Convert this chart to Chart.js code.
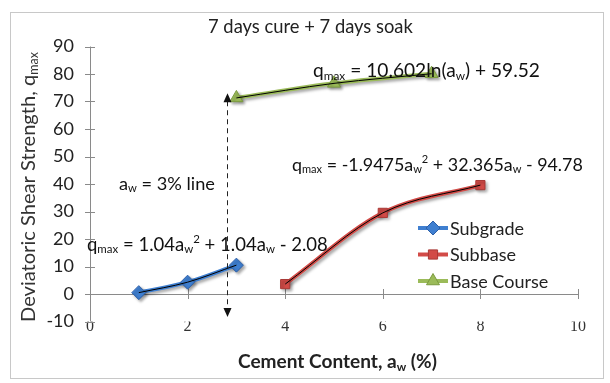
<!DOCTYPE html>
<html>
<head>
<meta charset="utf-8">
<script src="https://cdn.jsdelivr.net/npm/chart.js@4/dist/chart.umd.min.js"></script>
<style>
  body { margin: 0; background: #fff; }
  #wrap { position: relative; width: 610px; height: 383px; }
  #frame { position: absolute; left: 10px; top: 12px; width: 594px; height: 367px; border: 1px solid #c8c8c8; box-sizing: border-box; }
  canvas { position: absolute; left: 0; top: 0; }
</style>
</head>
<body>
<div id="wrap">
  <div id="frame"></div>
  <canvas id="chart" width="610" height="383"></canvas>
</div>
<script>
// cement content (%) and q_max for each layer
const subgradeX = [1, 2, 3];
const subgradeY = [0.5, 4.3, 10.5];
const subbaseX = [4, 6, 8];
const subbaseY = [3.6, 29.5, 39.6];
const baseX = [3, 5, 7];
const baseY = [71.3, 76.6, 80.1];

const xTicks = [0, 2, 4, 6, 8, 10];
const yTicks = [-10, 0, 10, 20, 30, 40, 50, 60, 70, 80, 90];

// a_w = 3% marker line (drawn slightly left of 3, as in the sheet)
const markerX = 2.8;
const markerFrom = -8.4;
const markerTo = 73;

const FONT = 'Lato, "Open Sans", sans-serif';

function pts(xs, ys) {
    return xs.map((x, i) => ({ x: x, y: ys[i] }));
}

function seriesSet(label, xs, ys, color, edge, style, radius) {
    return {
        label: label,
        data: pts(xs, ys),
        borderColor: color,
        backgroundColor: color,
        borderWidth: 4,
        pointStyle: style,
        pointRadius: radius,
        pointBackgroundColor: color,
        pointBorderColor: edge,
        pointBorderWidth: 1,
        cubicInterpolationMode: 'monotone',
        order: 2,
        shadow: true
    };
}

function trendSet(xs, ys) {
    return {
        label: 'trend',
        data: pts(xs, ys),
        borderColor: '#000',
        borderWidth: 1,
        pointRadius: 0,
        cubicInterpolationMode: 'monotone',
        order: 1
    };
}

function richWidth(ctx, parts, size, weight) {
    let w = 0;
    parts.forEach(p => {
        const s = p[1] ? size * 0.62 : size;
        ctx.font = weight + ' ' + s + 'px ' + FONT;
        w += ctx.measureText(p[0]).width;
    });
    return w;
}

// text with sub/superscript pieces, sized to span the given width
function richText(ctx, parts, x, y, width, weight) {
    weight = weight || 'normal';
    const size = 16 * width / richWidth(ctx, parts, 16, weight);
    let cx = x;
    ctx.textBaseline = 'middle';
    ctx.textAlign = 'left';
    parts.forEach(p => {
        let s = size, dy = 0;
        if (p[1] === 'sub') { s = size * 0.62; dy = size * 0.25; }
        if (p[1] === 'sup') { s = size * 0.62; dy = -size * 0.3; }
        ctx.font = weight + ' ' + s + 'px ' + FONT;
        ctx.fillText(p[0], cx, y + dy);
        cx += ctx.measureText(p[0]).width;
    });
}

function arrowHead(ctx, x, y, dir) {
    ctx.beginPath();
    ctx.moveTo(x, y);
    ctx.lineTo(x - 4, y - 9 * dir);
    ctx.lineTo(x + 4, y - 9 * dir);
    ctx.closePath();
    ctx.fill();
}

const shadowPlugin = {
    id: 'shadow',
    beforeDatasetDraw(chart, args) {
        if (chart.data.datasets[args.index].shadow) {
            const ctx = chart.ctx;
            ctx.shadowColor = 'rgba(0,0,0,0.35)';
            ctx.shadowBlur = 3;
            ctx.shadowOffsetX = 2;
            ctx.shadowOffsetY = 2;
        }
    },
    afterDatasetDraw(chart) {
        const ctx = chart.ctx;
        ctx.shadowColor = 'rgba(0,0,0,0)';
        ctx.shadowBlur = 0;
        ctx.shadowOffsetX = 0;
        ctx.shadowOffsetY = 0;
    }
};

const axesPlugin = {
    id: 'axes',
    beforeDatasetsDraw(chart) {
        const ctx = chart.ctx;
        const xs = chart.scales.x, ys = chart.scales.y;
        const x0 = xs.getPixelForValue(0);
        const y0 = ys.getPixelForValue(0);
        ctx.save();
        ctx.strokeStyle = '#8a8a8a';
        ctx.lineWidth = 1;
        ctx.beginPath();
        // vertical axis with crossing ticks
        ctx.moveTo(x0 + 0.5, ys.getPixelForValue(yTicks[0]));
        ctx.lineTo(x0 + 0.5, ys.getPixelForValue(yTicks[yTicks.length - 1]));
        yTicks.forEach(v => {
            const py = Math.round(ys.getPixelForValue(v)) + 0.5;
            ctx.moveTo(x0 - 5, py);
            ctx.lineTo(x0 + 5, py);
        });
        // horizontal axis sits at zero
        ctx.moveTo(x0, Math.round(y0) + 0.5);
        ctx.lineTo(xs.getPixelForValue(xTicks[xTicks.length - 1]), Math.round(y0) + 0.5);
        xTicks.forEach(v => {
            if (v === 0) return;
            const px = Math.round(xs.getPixelForValue(v)) + 0.5;
            ctx.moveTo(px, y0 - 5);
            ctx.lineTo(px, y0 + 5);
        });
        ctx.stroke();
        ctx.restore();
    },
    afterDraw(chart) {
        const ctx = chart.ctx;
        const xs = chart.scales.x, ys = chart.scales.y;
        ctx.save();

        // title
        ctx.fillStyle = '#222';
        richText(ctx, [['7 days cure + 7 days soak', '']], 208, 27, 205);

        // x axis title
        ctx.fillStyle = '#222';
        richText(ctx, [['Cement Content, a', ''], ['w', 'sub'], [' (%)', '']], 238, 362, 199, 'bold');

        // y axis title
        ctx.fillStyle = '#333';
        ctx.save();
        ctx.translate(29, 187);
        ctx.rotate(-Math.PI / 2);
        richText(ctx, [['Deviatoric Shear Strength, q', ''], ['max', 'sub']], -135, 0, 270);
        ctx.restore();

        // trend equations
        ctx.fillStyle = '#111';
        richText(ctx, [['q', ''], ['max', 'sub'], [' = 10.602ln(a', ''], ['w', 'sub'], [') + 59.52', '']], 313, 71, 227);
        richText(ctx, [['q', ''], ['max', 'sub'], [' = -1.9475a', ''], ['w', 'sub'], ['2', 'sup'],
            [' + 32.365a', ''], ['w', 'sub'], [' - 94.78', '']], 292, 165, 291);
        richText(ctx, [['q', ''], ['max', 'sub'], [' = 1.04a', ''], ['w', 'sub'], ['2', 'sup'],
            [' + 1.04a', ''], ['w', 'sub'], [' - 2.08', '']], 87, 245, 241);
        richText(ctx, [['a', ''], ['w', 'sub'], [' = 3% line', '']], 119, 184, 96);

        // dashed 3% line with arrows at both ends
        const mx = Math.round(xs.getPixelForValue(markerX)) + 0.5;
        const top = ys.getPixelForValue(markerTo);
        const bot = ys.getPixelForValue(markerFrom);
        ctx.strokeStyle = '#222';
        ctx.lineWidth = 1;
        ctx.setLineDash([5, 4]);
        ctx.beginPath();
        ctx.moveTo(mx, top + 8);
        ctx.lineTo(mx, bot - 8);
        ctx.stroke();
        ctx.setLineDash([]);
        ctx.fillStyle = '#111';
        arrowHead(ctx, mx, top, -1);
        arrowHead(ctx, mx, bot, 1);

        // legend
        [0, 1, 2].forEach((di, i) => {
            const ds = chart.data.datasets[di];
            const ly = 228 + i * 26.5;
            ctx.strokeStyle = ds.borderColor;
            ctx.lineWidth = 4;
            ctx.beginPath();
            ctx.moveTo(418, ly);
            ctx.lineTo(448, ly);
            ctx.stroke();
            ctx.fillStyle = ds.pointBackgroundColor;
            ctx.strokeStyle = ds.pointBorderColor;
            ctx.lineWidth = 1;
            Chart.helpers.drawPoint(ctx, { pointStyle: ds.pointStyle, radius: ds.pointRadius, borderWidth: 1 }, 433, ly);
            ctx.fillStyle = '#222';
            ctx.font = '18px ' + FONT;
            ctx.textAlign = 'left';
            ctx.textBaseline = 'middle';
            ctx.fillText(ds.label, 450, ly + 1);
        });
        ctx.restore();
    }
};

const ctx = document.getElementById('chart');

new Chart(ctx, {
    type: 'line',
    data: {
        datasets: [
            seriesSet('Subgrade', subgradeX, subgradeY, '#3f7fd0', '#2d5fa8', 'rectRot', 7),
            seriesSet('Subbase', subbaseX, subbaseY, '#d24b47', '#a93a37', 'rect', 6.5),
            seriesSet('Base Course', baseX, baseY, '#9bbb59', '#7a9a3e', 'triangle', 7.5),
            trendSet(subgradeX, subgradeY),
            trendSet(subbaseX, subbaseY),
            trendSet(baseX, baseY)
        ]
    },
    options: {
        responsive: false,
        devicePixelRatio: 1,
        animation: false,
        layout: { padding: { left: 0, top: 46.5, right: 32, bottom: 0 } },
        plugins: {
            legend: { display: false },
            tooltip: { enabled: false }
        },
        scales: {
            x: {
                type: 'linear',
                min: 0,
                max: 10,
                afterFit(scale) { scale.height = 383 - 321.5; },
                afterBuildTicks(scale) { scale.ticks = xTicks.map(v => ({ value: v })); },
                ticks: {
                    padding: -4,
                    color: '#333',
                    font: { family: '"Liberation Serif", serif', size: 16 }
                },
                grid: { display: false, drawTicks: false },
                border: { display: false }
            },
            y: {
                min: -10,
                max: 90,
                afterFit(scale) { scale.width = 90; },
                afterBuildTicks(scale) { scale.ticks = yTicks.map(v => ({ value: v })); },
                ticks: {
                    padding: 16,
                    color: '#222',
                    font: { family: FONT, size: 18 }
                },
                grid: { display: false, drawTicks: false },
                border: { display: false }
            }
        }
    },
    plugins: [shadowPlugin, axesPlugin]
});
</script>
</body>
</html>
